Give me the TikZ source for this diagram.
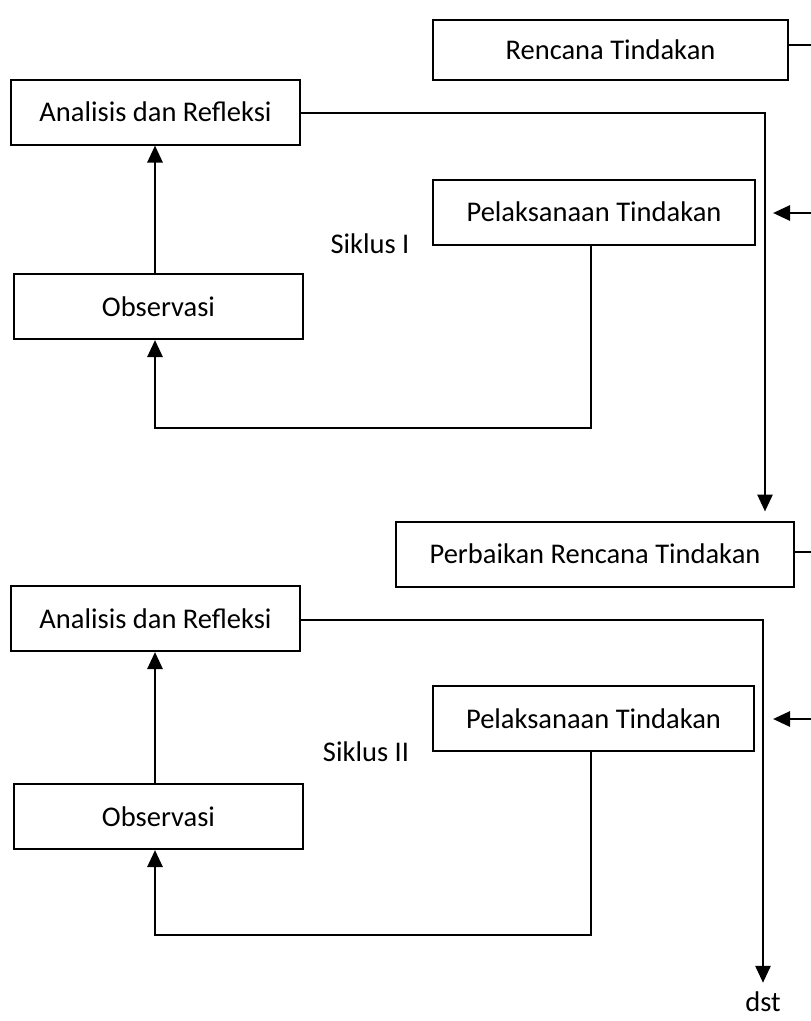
\documentclass[tikz,border=0pt]{standalone}
\usepackage{fontspec}
\setmainfont{Carlito}
\usetikzlibrary{arrows.meta}
\begin{document}
\begin{tikzpicture}[x=1pt,y=-1pt,>={Triangle[width=15pt,length=17pt]}]
      \useasboundingbox (0,0) rectangle (811,1021);
      \begin{scope}[every node/.style={draw,line width=2pt,minimum height=65pt,inner sep=0pt,font=\fontsize{28.5}{34}\selectfont}]
        \node[minimum width=355pt,minimum height=60pt] (R) at (610.5, 50) {Rencana Tindakan};
        \node[minimum width=289pt] (A1) at (155.5, 112) {Analisis dan Refleksi};
        \node[minimum width=322pt] (P1) at (594, 212) {Pelaksanaan Tindakan};
        \node[minimum width=289pt] (O1) at (158.5, 306.5) {Observasi};
        \node[minimum width=398pt] (PR) at (595, 554) {Perbaikan Rencana Tindakan};
        \node[minimum width=289pt] (A2) at (155.5, 618.5) {Analisis dan Refleksi};
        \node[minimum width=321pt] (P2) at (593.5, 718.5) {Pelaksanaan Tindakan};
        \node[minimum width=289pt] (O2) at (158.5, 816.5) {Observasi};
      \end{scope}
      \begin{scope}[every node/.style={inner sep=0pt,font=\fontsize{28.5}{34}\selectfont}]
        \node (S1) at (370, 244) {Siklus I};
        \node (S2) at (366, 752) {Siklus II};
        \node (D) at (763, 1002) {dst};
      \end{scope}
      \coordinate (RE) at (811, 45);
      \coordinate (K1) at (765, 113);
      \coordinate (E1) at (811, 213);
      \coordinate (T1) at (773, 213);
      \coordinate (L1) at (591, 428);
      \coordinate (M1) at (155, 428);
      \coordinate (PE) at (811, 552);
      \coordinate (K2) at (763, 620);
      \coordinate (E2) at (811, 719);
      \coordinate (T2) at (773, 719);
      \coordinate (L2) at (591, 935);
      \coordinate (M2) at (155, 935);
      \begin{scope}[line width=2.8pt]
        \draw (R.east |- RE) -- (RE);
        \draw[->,shorten >=9pt] (A1.east |- K1) -- (K1) -- (K1 |- PR.north);
        \draw[->] (E1) -- (T1);
        \draw[->] (O1.north -| M1) -- (M1 |- A1.south);
        \draw[->] (L1 |- P1.south) -- (L1) -- (M1) -- (M1 |- O1.south);
        \draw (PR.east |- PE) -- (PE);
        \draw[->,shorten >=9pt] (A2.east |- K2) -- (K2) -- (K2 |- D.north);
        \draw[->] (E2) -- (T2);
        \draw[->] (O2.north -| M2) -- (M2 |- A2.south);
        \draw[->] (L2 |- P2.south) -- (L2) -- (M2) -- (M2 |- O2.south);
      \end{scope}
    \end{tikzpicture}
\end{document}
